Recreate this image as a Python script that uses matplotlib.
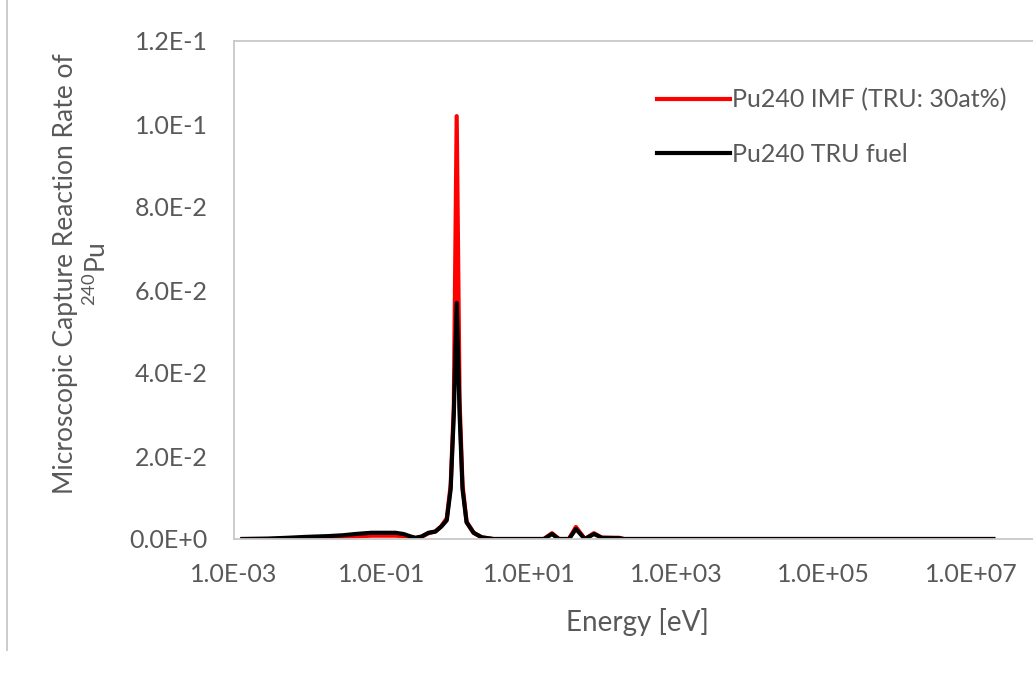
import numpy as np
import matplotlib.pyplot as plt
from matplotlib.lines import Line2D
from matplotlib.ticker import FixedLocator, FuncFormatter, NullLocator

# -------------------------------
# Datos
# -------------------------------
energy = [1.3e-3, 2.9e-3, 5.4e-3, 9.2e-3, 0.019, 0.030, 0.044, 0.073, 0.106,
          0.155, 0.20, 0.25, 0.29, 0.35, 0.435, 0.54, 0.65, 0.77, 0.87, 0.96,
          1.05, 1.15, 1.26, 1.43, 1.78, 2.3, 3.3, 16.0, 20.6, 25.6, 35.0,
          43.5, 57.6, 76.5, 98.0, 167.0, 195.0, 2.0e7]

rate_imf = [0.0, 0.0, 0.0001, 0.0002, 0.0003, 0.0004, 0.0006, 0.0008, 0.0008,
            0.0008, 0.0007, 0.0004, 0.0002, 0.0005, 0.0014, 0.0018, 0.0031,
            0.0050, 0.013, 0.032, 0.1019, 0.033, 0.013, 0.0042, 0.0015,
            0.0004, 0.0, 0.0, 0.0014, 0.0, 0.0, 0.0029, 0.0, 0.0014, 0.0003,
            0.0003, 0.0, 0.0]

rate_tru = [0.0, 0.0001, 0.0003, 0.0005, 0.0007, 0.0009, 0.0012, 0.0015,
            0.0015, 0.0015, 0.0012, 0.0006, 0.0003, 0.0006, 0.0015, 0.0018,
            0.0030, 0.0045, 0.012, 0.030, 0.0569, 0.030, 0.012, 0.0040,
            0.0015, 0.0004, 0.0, 0.0, 0.0012, 0.0, 0.0, 0.0024, 0.0, 0.0012,
            0.0003, 0.0002, 0.0, 0.0]

labels = ["Pu240 IMF (TRU: 30at%)", "Pu240 TRU fuel"]
xticks = [1e-3, 1e-1, 1e1, 1e3, 1e5, 1e7]
yticks = [0.0, 0.02, 0.04, 0.06, 0.08, 0.10, 0.12]

# -------------------------------
# Estilo
# -------------------------------
plt.rcParams['font.family'] = ['Lato', 'DejaVu Sans']
plt.rcParams['mathtext.fontset'] = 'custom'
plt.rcParams['mathtext.rm'] = 'Lato'
gris = '#595959'
borde = '#c8c8c8'

W, H = 1033, 673
fig = plt.figure(figsize=(W / 100, H / 100), dpi=100)
ax = fig.add_axes([234 / W, 1 - 539 / H, (W - 234) / W, (539 - 41) / H])

ax.plot(energy, rate_imf, color='#ff0000', lw=3, solid_joinstyle='round', label=labels[0])
ax.plot(energy, rate_tru, color='black', lw=3, solid_joinstyle='round', label=labels[1])

ax.set_xscale('log')
ax.set_xlim(1e-3, 10 ** 7.84)
ax.set_ylim(0, 0.12)
ax.xaxis.set_major_locator(FixedLocator(xticks))
ax.xaxis.set_minor_locator(NullLocator())
ax.yaxis.set_major_locator(FixedLocator(yticks))


def fmt_y(v, pos):
    if v == 0:
        return "0.0E+0"
    e = int(np.floor(np.log10(v) + 1e-9))
    return f"{v / 10 ** e:.1f}E{e:+d}"


ax.xaxis.set_major_formatter(FuncFormatter(lambda v, p: f"{v:.1E}"))
ax.yaxis.set_major_formatter(FuncFormatter(fmt_y))
ax.tick_params(axis='both', length=0, labelsize=18, colors=gris)
ax.tick_params(axis='y', pad=19)
ax.tick_params(axis='x', pad=17)

for s in ['left', 'top', 'bottom']:
    ax.spines[s].set_color(borde)
    ax.spines[s].set_linewidth(1.3)
ax.spines['right'].set_visible(False)

fig.text(82 / W, 1 - 274 / H, "Microscopic Capture Reaction Rate of\n$^{240}$Pu",
         rotation=90, ha='center', va='center', multialignment='center',
         fontsize=19, color=gris, linespacing=1.2)
fig.text(637 / W, 1 - 622 / H, "Energy [eV]", ha='center', va='center',
         fontsize=20, color=gris)

leg = ax.legend(loc='upper left', bbox_to_anchor=(657 / W, 1 - 88 / H),
                bbox_transform=fig.transFigure, frameon=False, fontsize=18,
                handlelength=2.9, handletextpad=0.1, labelspacing=1.25,
                borderpad=0, borderaxespad=0)
for t in leg.get_texts():
    t.set_color(gris)

# borde izquierdo del recuadro
fig.add_artist(Line2D([7 / W, 7 / W], [1 - 650 / H, 1], transform=fig.transFigure,
                      color=borde, lw=1.3))

fig.savefig("out.png", dpi=100)
plt.close()
